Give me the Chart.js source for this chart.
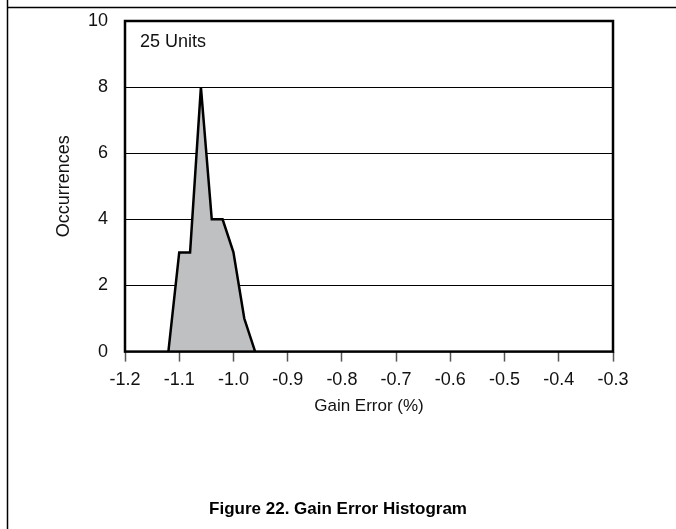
<!DOCTYPE html>
<html>
<head>
<meta charset="utf-8">
<script src="https://cdn.jsdelivr.net/npm/chart.js@4.4.1/dist/chart.umd.min.js"></script>
<style>
  body { margin: 0; background: #fff; }
  canvas { display: block; }
</style>
</head>
<body>
<canvas id="gainChart" width="676" height="529"></canvas>
<script>
// gain error bins (%) and how many units fell in each
const gainError = [-1.12, -1.10, -1.08, -1.06, -1.04, -1.02, -1.00, -0.98, -0.96];
const occurrences = [0, 3, 3, 8, 4, 4, 3, 1, 0];
const xTicks = [-1.2, -1.1, -1.0, -0.9, -0.8, -0.7, -0.6, -0.5, -0.4, -0.3];
const yTicks = [0, 2, 4, 6, 8, 10];

const FONT = "'Liberation Sans', Arial, sans-serif";
const ctx = document.getElementById("gainChart");

// page frame lines, plot box and the "25 Units" note
const framePlugin = {
  id: "frame",
  beforeDraw(chart) {
    const c = chart.ctx;
    c.save();
    c.fillStyle = "#fff";
    c.fillRect(0, 0, chart.width, chart.height);
    c.strokeStyle = "#000";
    c.lineWidth = 1.5;
    c.beginPath();
    c.moveTo(7.5, 0);
    c.lineTo(7.5, chart.height);
    c.moveTo(7.5, 7.5);
    c.lineTo(chart.width, 7.5);
    c.stroke();
    c.restore();
  },
  afterDatasetsDraw(chart) {
    const c = chart.ctx;
    const a = chart.chartArea;
    c.save();
    c.strokeStyle = "#000";
    c.lineWidth = 2.5;
    c.strokeRect(a.left, a.top, a.right - a.left, a.bottom - a.top);
    c.font = "18px " + FONT;
    c.fillStyle = "#111";
    c.textBaseline = "alphabetic";
    c.fillText("25 Units", a.left + 15, a.top + 26);
    c.restore();
  },
};

function renderChart() {
  new Chart(ctx, {
    type: "line",
    data: {
      datasets: [
        {
          data: gainError.map((x, i) => ({ x: x, y: occurrences[i] })),
          borderColor: "#000",
          borderWidth: 2.5,
          borderJoinStyle: "miter",
          backgroundColor: "#bfc0c2",
          fill: "origin",
          tension: 0,
          pointRadius: 0,
        },
      ],
    },
    options: {
      responsive: false,
      animation: false,
      layout: { padding: { top: 21, left: 0, right: 0, bottom: 9 } },
      plugins: {
        legend: { display: false },
        tooltip: { enabled: false },
        title: {
          display: true,
          position: "bottom",
          text: "Figure 22. Gain Error Histogram",
          color: "#000",
          font: { family: FONT, size: 17, weight: "bold" },
          padding: { top: 78, bottom: 0 },
        },
      },
      scales: {
        x: {
          type: "linear",
          min: -1.2,
          max: -0.3,
          afterBuildTicks: (s) => {
            s.ticks = xTicks.map((v) => ({ value: v }));
          },
          afterFit: (s) => {
            s.height = 70;
            s.paddingLeft = 0;
            s.paddingRight = 0;
          },
          ticks: {
            color: "#111",
            font: { family: FONT, size: 18 },
            padding: 8,
            maxRotation: 0,
            autoSkip: false,
            callback: (v) => Number(v).toFixed(1),
          },
          grid: {
            drawOnChartArea: false,
            drawTicks: true,
            tickLength: 10,
            tickColor: "#555",
            tickWidth: 1.5,
          },
          border: { display: false },
          title: {
            display: true,
            text: "Gain Error (%)",
            color: "#111",
            font: { family: FONT, size: 17 },
            padding: { top: 0, bottom: 5 },
          },
        },
        y: {
          min: 0,
          max: 10,
          afterBuildTicks: (s) => {
            s.ticks = yTicks.map((v) => ({ value: v }));
          },
          afterFit: (s) => {
            s.width = 125;
            s.paddingTop = 0;
            s.paddingBottom = 0;
          },
          ticks: {
            color: "#111",
            font: { family: FONT, size: 18 },
            padding: 17,
          },
          grid: {
            color: "#000",
            lineWidth: 1,
            drawTicks: false,
          },
          border: { display: false },
          title: {
            display: true,
            text: "Occurrences",
            color: "#111",
            font: { family: FONT, size: 18 },
            padding: { top: 53, bottom: 0 },
          },
        },
        yRight: {
          position: "right",
          display: true,
          grid: { display: false },
          border: { display: false },
          ticks: { display: false },
          afterFit: (s) => {
            s.width = 63;
            s.paddingTop = 0;
            s.paddingBottom = 0;
          },
        },
      },
    },
    plugins: [framePlugin],
  });
}

renderChart();
</script>
</body>
</html>
